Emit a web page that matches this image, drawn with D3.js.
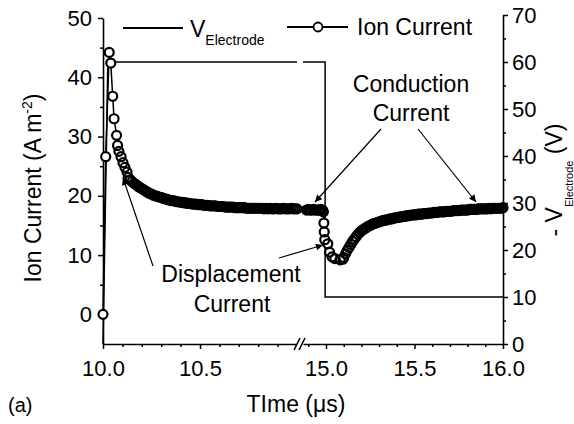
<!DOCTYPE html>
<html>
<head>
<meta charset="utf-8">
<script src="https://cdn.jsdelivr.net/npm/d3@7"></script>
<style>
  body { margin: 0; background: #fff; }
  svg text { font-family: "Liberation Sans", Arial, sans-serif; fill: #000; }
</style>
</head>
<body>
<div id="chart"></div>
<script>
// ion current, first window (10.0 - 11.0 us): turn-on spike, then a regular 0.01 us record
const spikeTime = [10.000, 10.014, 10.032, 10.040, 10.050, 10.057, 10.070, 10.075, 10.082, 10.093, 10.103, 10.113, 10.124, 10.130];
const spikeCurrent = [0, 26.6, 44.2, 42.4, 36.8, 33.0, 30.2, 28.5, 27.5, 26.6, 25.6, 24.8, 24.0, 23.1];
const decayStart = 10.14, decayStep = 0.01;
const decayCurrent = [
  22.7, 22.4, 22.1, 21.9, 21.6, 21.4, 21.2, 21.0, 20.8, 20.6,
  20.4, 20.3, 20.1, 20.0, 19.9, 19.8, 19.7, 19.6, 19.5, 19.4,
  19.3, 19.2, 19.2, 19.1, 19.0, 19.0, 18.9, 18.9, 18.8, 18.8,
  18.7, 18.7, 18.6, 18.6, 18.6, 18.5, 18.5, 18.5, 18.4, 18.4,
  18.4, 18.3, 18.3, 18.3, 18.3, 18.2, 18.2, 18.2, 18.2, 18.1,
  18.1, 18.1, 18.1, 18.1, 18.0, 18.0, 18.0, 18.0, 18.0, 18.0,
  17.9, 17.9, 17.9, 17.9, 17.9, 17.9, 17.9, 17.9, 17.9, 17.8,
  17.9, 17.8, 17.9, 17.8, 17.8, 17.9, 17.8, 17.8, 17.8, 17.9,
  17.8, 17.8, 17.8, 17.9, 17.8, 17.8, 17.8
];

// ion current, second window (14.9 - 16.0 us)
const plateauStart = 14.89, plateauStep = 0.01;
const plateauCurrent = [17.6, 17.7, 17.6, 17.6, 17.7, 17.6, 17.6, 17.6, 17.7, 17.6];
const dropTime = [14.985, 14.988, 14.990, 14.993, 15.010, 15.020, 15.034, 15.050, 15.080, 15.095];
const dropCurrent = [17.3, 15.4, 13.9, 12.6, 11.9, 10.5, 9.7, 9.4, 9.2, 9.3];
const recoveryStart = 15.10, recoveryStep = 0.01;
const recoveryCurrent = [
  9.6, 10.2, 10.8, 11.3, 11.8, 12.3, 12.7, 13.1, 13.5, 13.8,
  14.1, 14.3, 14.5, 14.7, 14.9, 15.0, 15.2, 15.3, 15.4, 15.5,
  15.6, 15.7, 15.8, 15.9, 15.9, 16.0, 16.1, 16.1, 16.2, 16.3,
  16.3, 16.4, 16.4, 16.5, 16.5, 16.6, 16.6, 16.7, 16.7, 16.8,
  16.8, 16.8, 16.9, 16.9, 16.9, 17.0, 17.0, 17.0, 17.1, 17.1,
  17.1, 17.2, 17.2, 17.2, 17.3, 17.3, 17.3, 17.3, 17.4, 17.4,
  17.4, 17.4, 17.5, 17.5, 17.5, 17.5, 17.6, 17.6, 17.6, 17.6,
  17.6, 17.7, 17.7, 17.7, 17.7, 17.7, 17.8, 17.8, 17.8, 17.8,
  17.8, 17.8, 17.9, 17.8, 17.9, 17.9, 17.9, 17.9, 17.9, 17.9,
  18.0
];

// electrode voltage pulse (plotted as -V)
const electrodeTimeA = [10.000, 10.025, 11.000];
const electrodeVoltA = [0, 60, 60];
const electrodeTimeB = [14.870, 14.995, 14.995, 16.000];
const electrodeVoltB = [60, 60, 10, 10];

// ticks
const currentTicks = [0, 10, 20, 30, 40, 50];
const currentMinor = [5, 15, 25, 35, 45];
const voltTicks = [0, 10, 20, 30, 40, 50, 60, 70];
const voltMinor = [5, 15, 25, 35, 45, 55, 65];
const timeTicksA = [10.0, 10.5];
const timeMinorA = [10.1, 10.2, 10.3, 10.4, 10.6, 10.7, 10.8, 10.9];
const timeTicksB = [15.0, 15.5, 16.0];
const timeMinorB = [14.9, 15.1, 15.2, 15.3, 15.4, 15.6, 15.7, 15.8, 15.9];

const width = 574, height = 424;

const svg = d3.select("#chart").append("svg")
  .attr("width", width)
  .attr("height", height);

// broken time axis: two linear pieces
const xA = d3.scaleLinear().domain([10.0, 11.0]).range([103, 297]);
const xB = d3.scaleLinear().domain([14.87, 16.0]).range([303, 503]);
const yI = d3.scaleLinear().domain([-5, 50]).range([344, 18]);
const yV = d3.scaleLinear().domain([0, 70]).range([344, 15]);

const fmt1 = d3.format(".1f");

function styleAxis(g, size) {
  g.select(".domain").attr("stroke-width", 1.6);
  g.selectAll(".tick line").attr("stroke-width", 1.5);
  g.selectAll(".tick text")
    .style("font-size", size + "px")
    .style("font-family", "Liberation Sans, Arial, sans-serif");
}

function minorTicks(g) {
  g.select(".domain").remove();
  g.selectAll("line").attr("stroke-width", 1.5);
}

// left axis
svg.append("g")
  .attr("transform", "translate(103,0)")
  .call(d3.axisLeft(yI).tickValues(currentTicks).tickSize(5).tickSizeOuter(0).tickPadding(6))
  .call(g => styleAxis(g, 22));
svg.append("g")
  .attr("transform", "translate(103,0)")
  .call(d3.axisLeft(yI).tickValues(currentMinor).tickSize(3).tickFormat(""))
  .call(minorTicks);

// right axis
svg.append("g")
  .attr("transform", "translate(503,0)")
  .call(d3.axisRight(yV).tickValues(voltTicks).tickSize(5).tickSizeOuter(0).tickPadding(4))
  .call(g => styleAxis(g, 22));
svg.append("g")
  .attr("transform", "translate(503,0)")
  .call(d3.axisRight(yV).tickValues(voltMinor).tickSize(3).tickFormat(""))
  .call(minorTicks);

// bottom axis, two pieces
svg.append("g")
  .attr("transform", "translate(0,344)")
  .call(d3.axisBottom(xA).tickValues(timeTicksA).tickFormat(fmt1).tickSize(5).tickSizeOuter(0).tickPadding(11))
  .call(g => styleAxis(g, 22));
svg.append("g")
  .attr("transform", "translate(0,344)")
  .call(d3.axisBottom(xA).tickValues(timeMinorA).tickSize(3).tickFormat(""))
  .call(minorTicks);
svg.append("g")
  .attr("transform", "translate(0,344)")
  .call(d3.axisBottom(xB).tickValues(timeTicksB).tickFormat(fmt1).tickSize(5).tickSizeOuter(0).tickPadding(11))
  .call(g => styleAxis(g, 22));
svg.append("g")
  .attr("transform", "translate(0,344)")
  .call(d3.axisBottom(xB).tickValues(timeMinorB).tickSize(3).tickFormat(""))
  .call(minorTicks);

// axis break marks
svg.append("rect").attr("x", 297).attr("y", 338).attr("width", 6).attr("height", 12).attr("fill", "#fff");
[294, 299].forEach(x0 => {
  svg.append("line")
    .attr("x1", x0).attr("y1", 350).attr("x2", x0 + 6).attr("y2", 338)
    .attr("stroke", "#000").attr("stroke-width", 1.5);
});

// electrode voltage
const voltLineA = d3.line().x(d => xA(d.t)).y(d => yV(d.v));
const voltLineB = d3.line().x(d => xB(d.t)).y(d => yV(d.v));
const voltA = electrodeTimeA.map((t, i) => ({ t, v: electrodeVoltA[i] }));
const voltB = electrodeTimeB.map((t, i) => ({ t, v: electrodeVoltB[i] }));

svg.append("path").datum(voltA).attr("d", voltLineA)
  .attr("fill", "none").attr("stroke", "#000").attr("stroke-width", 1.5);
svg.append("path").datum(voltB).attr("d", voltLineB)
  .attr("fill", "none").attr("stroke", "#000").attr("stroke-width", 1.5);

// ion current series
const ionA = spikeTime.map((t, i) => ({ t, v: spikeCurrent[i] }))
  .concat(decayCurrent.map((v, i) => ({ t: decayStart + i * decayStep, v })));
const ionB = plateauCurrent.map((v, i) => ({ t: plateauStart + i * plateauStep, v }))
  .concat(dropTime.map((t, i) => ({ t, v: dropCurrent[i] })))
  .concat(recoveryCurrent.map((v, i) => ({ t: recoveryStart + i * recoveryStep, v })));

// line, then white symbol bodies, then all rings on top so dense runs read as a solid band
function drawIon(data, x) {
  svg.append("path").datum(data)
    .attr("d", d3.line().x(d => x(d.t)).y(d => yI(d.v)))
    .attr("fill", "none").attr("stroke", "#000").attr("stroke-width", 1.5);
  svg.append("g").selectAll("circle")
    .data(data)
    .enter()
    .append("circle")
    .attr("cx", d => x(d.t))
    .attr("cy", d => yI(d.v))
    .attr("r", 4.5)
    .attr("fill", "#fff");
  svg.append("g").selectAll("circle")
    .data(data)
    .enter()
    .append("circle")
    .attr("cx", d => x(d.t))
    .attr("cy", d => yI(d.v))
    .attr("r", 4.5)
    .attr("fill", "none")
    .attr("stroke", "#000")
    .attr("stroke-width", 2.2);
}
drawIon(ionA, xA);
drawIon(ionB, xB);

// legend
svg.append("line").attr("x1", 123).attr("x2", 183).attr("y1", 28).attr("y2", 28)
  .attr("stroke", "#000").attr("stroke-width", 2);
const vLegend = svg.append("text").attr("x", 190).attr("y", 37).style("font-size", "23px");
vLegend.append("tspan").text("V");
vLegend.append("tspan").attr("dy", 8).style("font-size", "14px").text("Electrode");

svg.append("line").attr("x1", 287).attr("x2", 348).attr("y1", 27).attr("y2", 27)
  .attr("stroke", "#000").attr("stroke-width", 2);
svg.append("circle").attr("cx", 318).attr("cy", 27).attr("r", 4.5)
  .attr("fill", "#fff").attr("stroke", "#000").attr("stroke-width", 1.8);
svg.append("text").attr("x", 357).attr("y", 35).style("font-size", "23px").text("Ion Current");

// arrowheads
svg.append("defs").append("marker")
  .attr("id", "head")
  .attr("viewBox", "0 0 10 10")
  .attr("refX", 10).attr("refY", 5)
  .attr("markerWidth", 9).attr("markerHeight", 7)
  .attr("markerUnits", "userSpaceOnUse")
  .attr("orient", "auto")
  .append("path").attr("d", "M0,0L10,5L0,10Z").attr("fill", "#000");

function arrow(x1, y1, x2, y2) {
  svg.append("line")
    .attr("x1", x1).attr("y1", y1).attr("x2", x2).attr("y2", y2)
    .attr("stroke", "#000").attr("stroke-width", 1.2)
    .attr("marker-end", "url(#head)");
}

// annotations
svg.append("text").attr("x", 411).attr("y", 92).attr("text-anchor", "middle")
  .style("font-size", "23px").text("Conduction");
svg.append("text").attr("x", 411).attr("y", 121).attr("text-anchor", "middle")
  .style("font-size", "23px").text("Current");
arrow(381, 129, 315, 202);
arrow(418, 129, 476, 202);

svg.append("text").attr("x", 231).attr("y", 282).attr("text-anchor", "middle")
  .style("font-size", "23px").text("Displacement");
svg.append("text").attr("x", 232).attr("y", 312).attr("text-anchor", "middle")
  .style("font-size", "23px").text("Current");
arrow(153, 266, 123, 178);
arrow(279, 258, 323, 245);

// axis titles
const leftTitle = svg.append("text")
  .attr("transform", "translate(41,188) rotate(-90)")
  .attr("text-anchor", "middle")
  .style("font-size", "23px");
leftTitle.append("tspan").text("Ion Current (A m");
leftTitle.append("tspan").attr("dy", -9).style("font-size", "14px").text("-2");
leftTitle.append("tspan").attr("dy", 9).text(")");

const rightTitle = svg.append("text")
  .attr("transform", "translate(562,180) rotate(-90)")
  .attr("text-anchor", "middle")
  .style("font-size", "23px");
rightTitle.append("tspan").text("- V");
rightTitle.append("tspan").attr("dy", 11).style("font-size", "11px").text("Electrode");
rightTitle.append("tspan").attr("dy", -11).text(" (V)");

svg.append("text").attr("x", 296).attr("y", 412).attr("text-anchor", "middle")
  .style("font-size", "23px").text("TIme (\u03bcs)");
svg.append("text").attr("x", 8).attr("y", 412)
  .style("font-size", "20px").text("(a)");
</script>
</body>
</html>
